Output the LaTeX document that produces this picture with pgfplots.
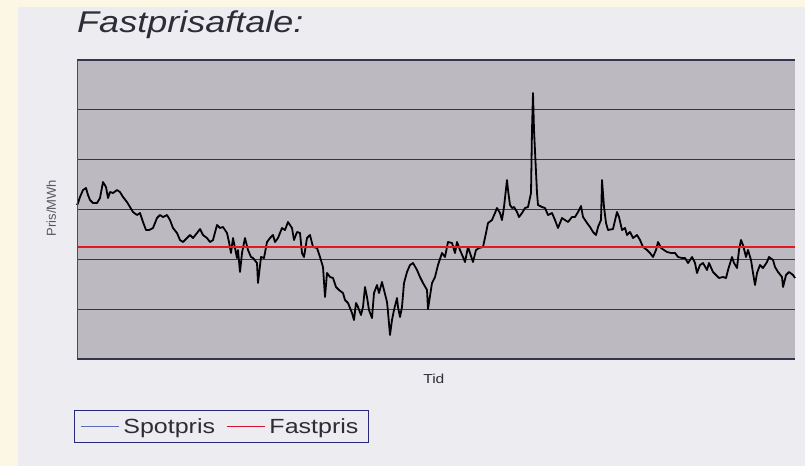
\documentclass[border=0pt]{standalone}
\usepackage{fontspec}
\setmainfont{Liberation Sans}
\usepackage{graphicx}
\usepackage{pgfplots}
\pgfplotsset{compat=1.18}
\definecolor{cream}{RGB}{251,247,228}
\definecolor{innerbg}{RGB}{237,236,241}
\definecolor{plotbg}{RGB}{189,185,192}
\definecolor{gridc}{RGB}{55,50,80}
\definecolor{spotleg}{RGB}{95,105,185}
\definecolor{fastred}{RGB}{225,25,35}
\definecolor{legred}{RGB}{210,20,50}
\definecolor{legborder}{RGB}{40,40,120}
\definecolor{txt}{RGB}{45,45,55}
\begin{document}
\begin{tikzpicture}[x=1pt,y=1pt]
\useasboundingbox (0,0) rectangle (805,-466);
\fill[cream] (0,0) rectangle (805,-466);
\fill[innerbg] (18,-7) rectangle (805,-466);
\begin{axis}[
  at={(77pt,-359pt)}, anchor=south west,
  scale only axis, width=718pt, height=299pt,
  xmin=77, xmax=795, ymin=0, ymax=299,
  axis line style={draw=none},
  axis background/.style={fill=plotbg},
  xtick=\empty, ytick={0,49.8,99.7,149.5,199.3,249.2,299}, yticklabels={},
  major tick length=0pt,
  ymajorgrids, grid style={gridc, line width=1.1pt},
  clip=false,
  title={\itshape Fastprisaftale:},
  title style={at={(axis description cs:0,1.0706)}, anchor=base west, font=\fontsize{30}{36}\selectfont, xscale=1.2, inner sep=0pt, text=txt},
  xlabel={Tid},
  xlabel style={at={(axis description cs:0.497,-0.067)}, anchor=center, font=\fontsize{13}{15}\selectfont, xscale=1.2, text=txt},
  ylabel={Pris/MWh},
  ylabel style={at={(axis description cs:-0.036,0.505)}, anchor=center, font=\fontsize{13}{15}\selectfont, text=txt!80},
  legend columns=2,
  legend image code/.code={\draw[#1] (0pt,0pt) -- (38pt,0pt);},
  legend style={at={(axis description cs:-0.0042,-0.1706)}, anchor=north west,
    draw=legborder, line width=0.9pt, fill=innerbg, text=txt,
    font=\fontsize{20.5}{24}\selectfont, inner xsep=6.5pt, inner ysep=7pt,
    nodes={inner xsep=3.5pt, inner ysep=1pt},
    /tikz/every even column/.append style={column sep=8pt}},
]
\addplot[black, line width=1.8pt, line join=round, forget plot] coordinates {
(77,154) (78,156) (80,162) (83,169) (86,171) (88,164) (90,159) (93,156) (97,156) (100,161)
(103,177) (106,172) (108,161) (110,167) (113,166) (117,169) (120,167) (123,162) (127,157) (130,152)
(133,147) (137,144) (140,146) (143,137) (146,129) (149,129) (153,131) (157,141) (160,144) (163,142)
(167,144) (170,139) (173,131) (177,126) (180,119) (183,117) (187,121) (190,124) (193,121) (197,126)
(200,130) (203,124) (207,121) (210,117) (213,119) (217,134) (220,131) (223,132) (227,126) (229,117)
(231,106) (233,121) (237,101) (238,109) (240,87) (242,106) (245,121) (248,109) (251,102) (253,101)
(257,96) (258,76) (261,102) (264,101) (267,117) (270,121) (273,124) (275,117) (278,121) (282,131)
(285,129) (288,137) (292,131) (294,119) (297,127) (300,126) (302,106) (304,102) (307,121) (310,124)
(313,112) (317,111) (320,102) (323,92) (325,62) (327,86) (330,82) (333,81) (336,72) (339,69)
(343,66) (345,59) (348,56) (352,46) (354,39) (356,56) (358,52) (361,44) (363,52) (365,72)
(367,62) (369,49) (372,41) (374,66) (377,74) (379,66) (382,77) (384,69) (387,57) (388,47)
(390,24) (392,39) (394,49) (397,61) (398,52) (400,42) (402,52) (404,76) (407,87) (410,94)
(413,96) (417,89) (420,82) (423,76) (427,69) (428,50) (432,76) (435,82) (438,94) (442,106)
(445,102) (448,117) (452,116) (455,106) (457,117) (460,109) (463,102) (465,97) (468,112) (470,106)
(473,97) (476,109) (479,111) (483,112) (486,126) (488,136) (492,139) (495,146) (497,151) (500,146)
(502,139) (504,152) (507,179) (508,169) (510,154) (512,151) (514,152) (517,147) (519,142) (522,146)
(525,151) (528,152) (531,166) (532,229) (533,266) (534,229) (537,166) (538,154) (542,152) (545,151)
(548,144) (552,146) (555,139) (558,131) (560,136) (562,141) (565,139) (568,137) (572,142) (575,142)
(578,147) (581,153) (583,142) (587,136) (590,132) (593,127) (596,124) (598,132) (601,139) (602,179)
(604,152) (606,136) (608,129) (613,130) (617,147) (619,142) (622,129) (625,131) (627,124) (630,127)
(633,121) (637,124) (640,119) (643,112) (647,109) (650,106) (653,102) (656,109) (658,117) (661,111)
(664,109) (667,107) (671,106) (675,106) (678,102) (682,101) (685,101) (688,96) (692,102) (695,96)
(697,86) (700,94) (703,96) (707,89) (709,96) (713,87) (716,84) (719,81) (723,82) (726,81)
(728,89) (732,102) (734,96) (737,91) (739,109) (741,119) (743,114) (746,102) (748,109) (751,99)
(753,86) (755,74) (757,86) (760,94) (763,91) (767,97) (769,102) (773,99) (775,92) (778,87)
(782,82) (783,72) (786,84) (789,87) (793,84) (795,81)
};
\addplot[fastred, line width=1.6pt, forget plot] coordinates {(77,112) (795,112)};
\draw[gray!60!black, line width=0.8pt] (rel axis cs:0,0) -- (rel axis cs:0,1);
\addlegendimage{spotleg, line width=0.9pt}
\addlegendentry{\scalebox{1.22}[1]{Spotpris}}
\addlegendimage{legred, line width=1.4pt}
\addlegendentry{\scalebox{1.22}[1]{Fastpris}}
\end{axis}
\end{tikzpicture}
\end{document}
